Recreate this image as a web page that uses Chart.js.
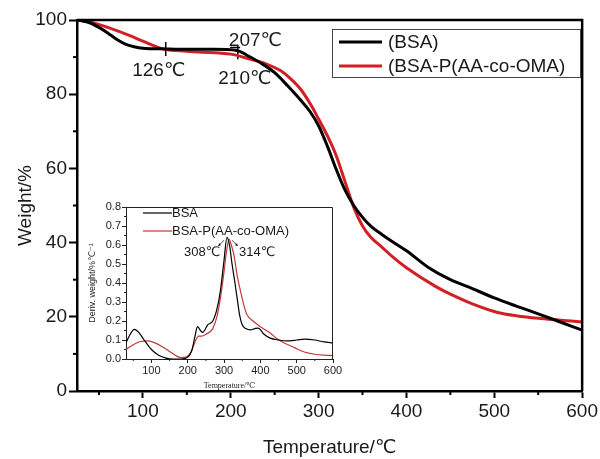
<!DOCTYPE html>
<html>
<head>
<meta charset="utf-8">
<script src="https://cdn.jsdelivr.net/npm/chart.js@4.4.0/dist/chart.umd.min.js"></script>
<style>
  html, body { margin: 0; padding: 0; background: #fff; }
  #wrap { position: relative; width: 600px; height: 459px; }
  #main { position: absolute; left: 0; top: 0; }
  #inset { position: absolute; left: 80px; top: 195px; }
</style>
</head>
<body>
<div id="wrap">
  <canvas id="main" width="600" height="459"></canvas>
  <canvas id="inset" width="265" height="197"></canvas>
</div>
<script>
// TGA curves (main plot)
const tgaTempBsa = [25, 40, 50, 60, 70, 80, 90, 100, 126, 150, 180, 207, 220, 235, 250, 265, 280, 290, 300, 310, 320, 330, 340, 350, 360, 372, 385, 400, 425, 450, 475, 500, 525, 550, 575, 600];
const tgaBsa = [100, 99.2, 98, 96.5, 94.8, 93.5, 92.8, 92.4, 92.2, 92.1, 92.1, 91.8, 90.3, 88.3, 85.8, 82.2, 78.3, 75.4, 71.5, 66, 59.8, 54.2, 50, 46.8, 44.3, 42.2, 40.1, 37.8, 33.3, 30, 27.6, 25.1, 22.9, 20.8, 18.6, 16.4];
const tgaTempCopo = [25, 40, 60, 86, 100, 125, 150, 163, 200, 223, 240, 257, 268, 280, 292, 300, 310, 320, 330, 340, 350, 360, 372, 385, 400, 433, 450, 475, 505, 525, 550, 575, 600];
const tgaCopo = [100, 99.5, 98, 95.7, 94.3, 92.1, 91.6, 91.4, 90.8, 89.4, 88.2, 86.3, 84.2, 81.2, 76.8, 73.3, 68.8, 63.5, 56.5, 49.5, 44.5, 41.3, 38.8, 36, 33.2, 28.2, 26.1, 23.5, 21.1, 20.3, 19.6, 19.1, 18.6];

// DTG curves (inset)
const dtgTempBsa = [30, 40, 53, 65, 80, 100, 120, 140, 160, 180, 200, 212, 220, 227, 235, 241, 255, 269, 280, 290, 300, 308, 315, 322, 330, 336, 343, 350, 360, 372, 385, 394, 410, 427, 450, 474, 500, 521, 550, 575, 600];
const dtgBsa = [0.085, 0.125, 0.156, 0.14, 0.1, 0.05, 0.02, 0.005, 0, 0, 0.01, 0.05, 0.12, 0.17, 0.15, 0.14, 0.18, 0.2, 0.26, 0.36, 0.52, 0.64, 0.6, 0.5, 0.4, 0.32, 0.23, 0.18, 0.16, 0.153, 0.16, 0.163, 0.13, 0.11, 0.1, 0.095, 0.1, 0.105, 0.1, 0.09, 0.085];
const dtgTempCopo = [30, 50, 70, 90, 110, 130, 150, 170, 180, 195, 210, 220, 230, 238, 250, 269, 280, 290, 300, 307, 314, 320, 328, 336, 345, 355, 364, 380, 400, 427, 447, 470, 494, 521, 550, 575, 600];
const dtgCopo = [0.05, 0.075, 0.092, 0.095, 0.085, 0.065, 0.04, 0.015, 0.008, 0.01, 0.04, 0.09, 0.12, 0.12, 0.13, 0.16, 0.22, 0.32, 0.46, 0.57, 0.63, 0.6, 0.54, 0.44, 0.36, 0.28, 0.23, 0.2, 0.17, 0.137, 0.105, 0.08, 0.06, 0.037, 0.025, 0.02, 0.018];

// axis ticks
const mainTicksX = [100, 200, 300, 400, 500, 600];
const mainMinorX = [50, 150, 250, 350, 450, 550];
const mainTicksY = [0, 20, 40, 60, 80, 100];
const mainMinorY = [10, 30, 50, 70, 90];
const insetTicksX = [100, 200, 300, 400, 500, 600];
const insetMinorX = [50, 150, 250, 350, 450, 550];
const insetTicksY = [0, 0.1, 0.2, 0.3, 0.4, 0.5, 0.6, 0.7, 0.8];

// labels
const seriesNames = ["(BSA)", "(BSA-P(AA-co-OMA)"];
const insetNames = ["BSA", "BSA-P(AA-co-OMA)"];
const onsetNotes = [
  { text: "126℃", t: 118, w: 86.4 },
  { text: "207℃", t: 228, w: 94.4 },
  { text: "210℃", t: 216, w: 84.2 },
];
const peakNotes = [
  { text: "308℃", t: 240, v: 0.56 },
  { text: "314℃", t: 391, v: 0.56 },
];
const markTemp = [126, 208];
const markWeight = [92.2, 91.3];
const capTemp = [205];
const capWeight = [92.6];

const BLACK = "#000000";
const RED = "#d21f24";
const INSET_RED = "#c2383b";
const FONT = '"Liberation Sans", Arial, "DejaVu Sans", sans-serif';

const toPoints = (xs, ys) => xs.map((x, i) => ({ x, y: ys[i] }));

const drawMinor = (ctx, scale, values, area, len, horizontal) => {
  values.forEach((v) => {
    const p = scale.getPixelForValue(v);
    ctx.beginPath();
    if (horizontal) { ctx.moveTo(p, area.bottom); ctx.lineTo(p, area.bottom + len); }
    else { ctx.moveTo(area.left, p); ctx.lineTo(area.left - len, p); }
    ctx.stroke();
  });
};

const mainDecor = {
  id: "mainDecor",
  afterDraw(chart) {
    const { ctx, chartArea: a, scales: { x, y } } = chart;
    ctx.save();
    ctx.strokeStyle = BLACK;
    ctx.lineWidth = 2.5;
    ctx.beginPath();
    ctx.moveTo(a.left, a.top);
    ctx.lineTo(a.right, a.top);
    ctx.lineTo(a.right, a.bottom);
    ctx.stroke();

    ctx.lineWidth = 2;
    drawMinor(ctx, x, mainMinorX, a, 4, true);
    drawMinor(ctx, y, mainMinorY, a, 4, false);

    // legend box
    ctx.lineWidth = 1;
    ctx.strokeStyle = "#444";
    ctx.strokeRect(332.5, 29.5, 248, 48);
    ctx.font = `19px ${FONT}`;
    ctx.textBaseline = "middle";
    ctx.textAlign = "left";
    ctx.fillStyle = "#1a1a1a";
    [BLACK, RED].forEach((c, i) => {
      const ly = 42 + i * 24;
      ctx.strokeStyle = c;
      ctx.lineWidth = 3;
      ctx.beginPath();
      ctx.moveTo(339, ly);
      ctx.lineTo(382, ly);
      ctx.stroke();
      ctx.fillText(seriesNames[i], 388, ly + 1);
    });

    ctx.textAlign = "center";
    onsetNotes.forEach((n) => ctx.fillText(n.text, x.getPixelForValue(n.t), y.getPixelForValue(n.w)));
    ctx.restore();
  },
};

const insetDecor = {
  id: "insetDecor",
  afterDraw(chart) {
    const { ctx, chartArea: a, scales: { x, y } } = chart;
    ctx.save();
    ctx.strokeStyle = "#222";
    ctx.lineWidth = 1;
    ctx.beginPath();
    ctx.moveTo(a.left, a.top + 0.5);
    ctx.lineTo(a.right - 0.5, a.top + 0.5);
    ctx.lineTo(a.right - 0.5, a.bottom);
    ctx.stroke();
    drawMinor(ctx, x, insetMinorX, a, 2, true);
    drawMinor(ctx, y, insetTicksY.slice(0, -1).map((v) => v + 0.05), a, 2, false);

    ctx.font = `13px ${FONT}`;
    ctx.textBaseline = "middle";
    ctx.textAlign = "left";
    ctx.fillStyle = "#1a1a1a";
    [BLACK, INSET_RED].forEach((c, i) => {
      const ly = a.top + 6 + i * 18;
      ctx.strokeStyle = c;
      ctx.lineWidth = 1.2;
      ctx.beginPath();
      ctx.moveTo(a.left + 17, ly);
      ctx.lineTo(a.left + 46, ly);
      ctx.stroke();
      ctx.fillText(insetNames[i], a.left + 46, ly);
    });

    ctx.textAlign = "center";
    peakNotes.forEach((n) => ctx.fillText(n.text, x.getPixelForValue(n.t), y.getPixelForValue(n.v)));

    // small arrows pointing away from the peaks
    ctx.strokeStyle = "#222";
    ctx.fillStyle = "#222";
    ctx.lineWidth = 0.8;
    [[300, 0.625, 284, 0.595], [322, 0.625, 338, 0.595]].forEach(([t0, v0, t1, v1]) => {
      const x0 = x.getPixelForValue(t0), y0 = y.getPixelForValue(v0);
      const x1 = x.getPixelForValue(t1), y1 = y.getPixelForValue(v1);
      ctx.beginPath(); ctx.moveTo(x0, y0); ctx.lineTo(x1, y1); ctx.stroke();
      const ang = Math.atan2(y1 - y0, x1 - x0);
      ctx.beginPath();
      ctx.moveTo(x1, y1);
      ctx.lineTo(x1 - 3 * Math.cos(ang - 0.5), y1 - 3 * Math.sin(ang - 0.5));
      ctx.lineTo(x1 - 3 * Math.cos(ang + 0.5), y1 - 3 * Math.sin(ang + 0.5));
      ctx.fill();
    });
    ctx.restore();
  },
};

new Chart(document.getElementById("main"), {
  type: "line",
  data: {
    datasets: [
      { label: seriesNames[0], data: toPoints(tgaTempBsa, tgaBsa), borderColor: BLACK, borderWidth: 3, pointRadius: 0, cubicInterpolationMode: "monotone" },
      { label: seriesNames[1], data: toPoints(tgaTempCopo, tgaCopo), borderColor: RED, borderWidth: 3, pointRadius: 0, cubicInterpolationMode: "monotone" },
      { type: "scatter", label: "onset", data: toPoints(markTemp, markWeight), pointStyle: "line", rotation: 90, pointRadius: 7, borderColor: BLACK, borderWidth: 1.5 },
      { type: "scatter", label: "cap", data: toPoints(capTemp, capWeight), pointStyle: "line", rotation: 0, pointRadius: 5, borderColor: BLACK, borderWidth: 1.5 },
    ],
  },
  options: {
    responsive: false,
    animation: false,
    devicePixelRatio: 1,
    layout: { padding: { left: 0, top: 20, right: 17, bottom: 0 } },
    plugins: { legend: { display: false }, tooltip: { enabled: false } },
    scales: {
      x: {
        type: "linear", min: 25, max: 600,
        afterBuildTicks: (s) => { s.ticks = mainTicksX.map((value) => ({ value })); },
        afterFit: (s) => { s.height = 68; },
        border: { display: true, color: BLACK, width: 2.5 },
        grid: { drawOnChartArea: false, drawTicks: true, tickLength: 7, tickWidth: 2, tickColor: BLACK },
        ticks: { color: "#1a1a1a", font: { family: FONT, size: 19 }, padding: 2, maxRotation: 0 },
        title: { display: true, text: "Temperature/℃", color: "#1a1a1a", font: { family: FONT, size: 19 }, padding: { top: 0, bottom: 0 } },
      },
      y: {
        min: 0, max: 100,
        afterBuildTicks: (s) => { s.ticks = mainTicksY.map((value) => ({ value })); },
        afterFit: (s) => { s.width = 77; },
        border: { display: true, color: BLACK, width: 2.5 },
        grid: { drawOnChartArea: false, drawTicks: true, tickLength: 8, tickWidth: 2, tickColor: BLACK },
        ticks: { color: "#1a1a1a", font: { family: FONT, size: 19 }, padding: 2 },
        title: { display: true, text: "Weight/%", color: "#1a1a1a", font: { family: FONT, size: 19 }, padding: { top: 14, bottom: 0 } },
      },
    },
  },
  plugins: [mainDecor],
});

new Chart(document.getElementById("inset"), {
  type: "line",
  data: {
    datasets: [
      { label: insetNames[0], data: toPoints(dtgTempBsa, dtgBsa), borderColor: BLACK, borderWidth: 1.2, pointRadius: 0, cubicInterpolationMode: "monotone" },
      { label: insetNames[1], data: toPoints(dtgTempCopo, dtgCopo), borderColor: INSET_RED, borderWidth: 1.2, pointRadius: 0, cubicInterpolationMode: "monotone" },
    ],
  },
  options: {
    responsive: false,
    animation: false,
    devicePixelRatio: 1,
    layout: { padding: { left: 0, top: 12, right: 12, bottom: 0 } },
    plugins: { legend: { display: false }, tooltip: { enabled: false } },
    scales: {
      x: {
        type: "linear", min: 30, max: 600,
        afterBuildTicks: (s) => { s.ticks = insetTicksX.map((value) => ({ value })); },
        afterFit: (s) => { s.height = 33; },
        border: { display: true, color: "#222", width: 1 },
        grid: { drawOnChartArea: false, drawTicks: true, tickLength: 4, tickWidth: 1, tickColor: "#222" },
        ticks: { color: "#222", font: { family: FONT, size: 11 }, padding: 1, maxRotation: 0 },
        title: { display: true, text: "Temperature/℃", color: "#222", font: { family: '"Liberation Serif", "DejaVu Serif", serif', size: 8 }, padding: { top: 0, bottom: 1 } },
      },
      y: {
        min: 0, max: 0.8,
        afterBuildTicks: (s) => { s.ticks = insetTicksY.map((value) => ({ value })); },
        afterFit: (s) => { s.width = 46; },
        border: { display: true, color: "#222", width: 1 },
        grid: { drawOnChartArea: false, drawTicks: true, tickLength: 4, tickWidth: 1, tickColor: "#222" },
        ticks: { color: "#222", font: { family: FONT, size: 11 }, padding: 1, callback: (v) => Number(v).toFixed(1) },
        title: { display: true, text: "Deriv. weight/%℃⁻¹", color: "#222", font: { family: FONT, size: 9 }, padding: { top: 7, bottom: 0 } },
      },
    },
  },
  plugins: [insetDecor],
});
</script>
</body>
</html>
